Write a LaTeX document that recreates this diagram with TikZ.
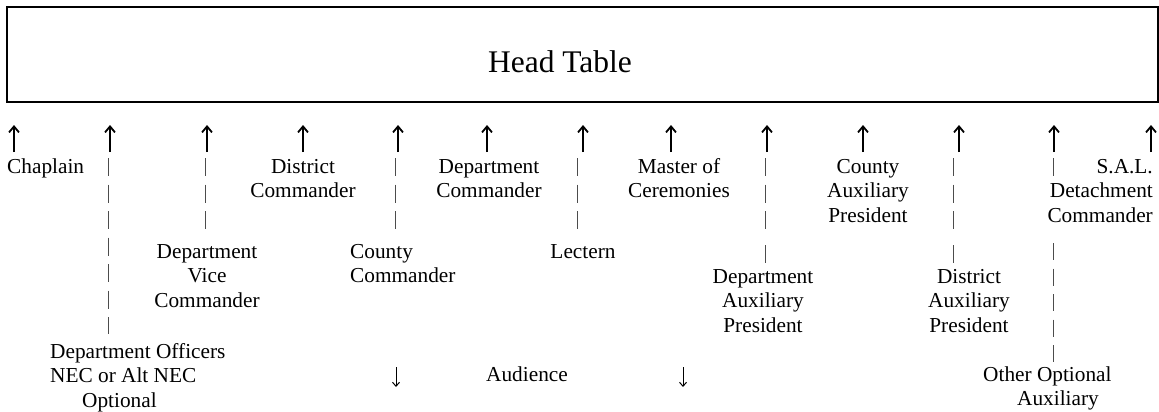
\documentclass[tikz,border=0pt]{standalone}
\usepackage{fontspec}
\setmainfont{Liberation Serif}
\usetikzlibrary{arrows.meta}

\begin{document}
\begin{tikzpicture}[x=1pt,y=-1pt,
	seat_label/.style={font=\fontsize{21.3pt}{24.5pt}\selectfont,inner sep=0pt,align=center,anchor=base},
	seat_arrow/.style={line width=1.8pt,-{Straight Barb[length=6pt,width=10pt]},shorten >=22pt},
	guide_bar/.style={draw=black!70,line width=1pt,dash pattern=on 18pt off 8.5pt},
	aisle_arrow/.style={line width=1pt,-{Straight Barb[length=4pt,width=7pt]}}]

	\useasboundingbox (0,0) rectangle (1159,412);

		\node[draw,line width=2pt,minimum width=1151pt,minimum height=95pt,inner sep=0pt] (t) at (582.5,54.5) {};
		\node[font=\fontsize{31.5pt}{36pt}\selectfont,inner sep=0pt,anchor=base] (head) at (560,73) {Head Table};

		\coordinate (1) at (14,152);
		\coordinate (2) at (110,152);
		\coordinate (3) at (207,152);
		\coordinate (4) at (303,152);
		\coordinate (5) at (398,152);
		\coordinate (6) at (487,152);
		\coordinate (7) at (583,152);
		\coordinate (8) at (671,152);
		\coordinate (9) at (767,152);
		\coordinate (10) at (863,152);
		\coordinate (11) at (959,152);
		\coordinate (12) at (1054,152);
		\coordinate (13) at (1151,152);

		\draw[seat_arrow] (1) -- (1 |- t.south);
		\draw[seat_arrow] (2) -- (2 |- t.south);
		\draw[seat_arrow] (3) -- (3 |- t.south);
		\draw[seat_arrow] (4) -- (4 |- t.south);
		\draw[seat_arrow] (5) -- (5 |- t.south);
		\draw[seat_arrow] (6) -- (6 |- t.south);
		\draw[seat_arrow] (7) -- (7 |- t.south);
		\draw[seat_arrow] (8) -- (8 |- t.south);
		\draw[seat_arrow] (9) -- (9 |- t.south);
		\draw[seat_arrow] (10) -- (10 |- t.south);
		\draw[seat_arrow] (11) -- (11 |- t.south);
		\draw[seat_arrow] (12) -- (12 |- t.south);
		\draw[seat_arrow] (13) -- (13 |- t.south);

		% labels sit on the baseline of their last line
		\node[seat_label,anchor=base west] (l1) at (7,173) {Chaplain};
		\node[seat_label,anchor=base west,align=left] (l2) at (50,407) {Department Officers\\NEC or Alt NEC\\\hspace*{32pt}Optional};
		\node[seat_label] (l3) at (207,307) {Department\\Vice\\Commander};
		\node[seat_label] (l4) at (303,197.5) {District\\Commander};
		\node[seat_label,anchor=base west,align=left] (l5) at (350,282.5) {County\\Commander};
		\node[seat_label] (l6) at (489,197.5) {Department\\Commander};
		\node[seat_label] (l7) at (583,258) {Lectern};
		\node[seat_label] (l8) at (679,197.5) {Master of\\Ceremonies};
		\node[seat_label] (l9) at (763,332) {Department\\Auxiliary\\President};
		\node[seat_label] (l10) at (868,222) {County\\Auxiliary\\President};
		\node[seat_label] (l11) at (969,332) {District\\Auxiliary\\President};
		\node[seat_label,anchor=base west,align=left] (l12) at (983,405.5) {Other Optional\\\hspace*{34pt}Auxiliary};
		\node[seat_label,anchor=base east,align=right] (l13) at (1153,222) {S.A.L.\\Detachment\\Commander};
		\node[seat_label] (aud) at (527,381) {Audience};

		% bars down to the labels set lower
		\coordinate (g2) at (108,158);
		\coordinate (g3) at (205,158);
		\coordinate (g5) at (395,158);
		\coordinate (g7) at (577,158);
		\coordinate (g9) at (765,158);
		\coordinate (g11) at (953,158);
		\coordinate (g12) at (1053,158);

		\draw[guide_bar,shorten >=8.5pt] (g2) -- (g2 |- l2.north);
		\draw[guide_bar,shorten >=15pt] (g3) -- (g3 |- l3.north);
		\draw[guide_bar,shorten >=15pt] (g5) -- (g5 |- l5.north);
		\draw[guide_bar,shorten >=15pt] (g7) -- (g7 |- l7.north);
		\draw[guide_bar,shorten >=6pt,dash pattern=on 18pt off 8.5pt on 18pt off 8.5pt on 18pt off 16pt] (g9) -- (g9 |- l9.north);
		\draw[guide_bar,shorten >=5.5pt,dash pattern=on 18pt off 8.5pt on 18pt off 8.5pt on 18pt off 16pt] (g11) -- (g11 |- l11.north);
		\draw[guide_bar,shorten >=4.5pt,dash pattern=on 18pt off 67pt on 17pt off 8.5pt on 17pt off 8.5pt on 17pt off 8.5pt on 17pt off 8.5pt on 17pt off 20pt] (g12) -- (g12 |- l12.north);

		\coordinate (d1) at (396,367);
		\coordinate (d2) at (683,367);
		\draw[aisle_arrow] (d1) -- ++(0,20);
		\draw[aisle_arrow] (d2) -- ++(0,20);
		\end{tikzpicture}
\end{document}
